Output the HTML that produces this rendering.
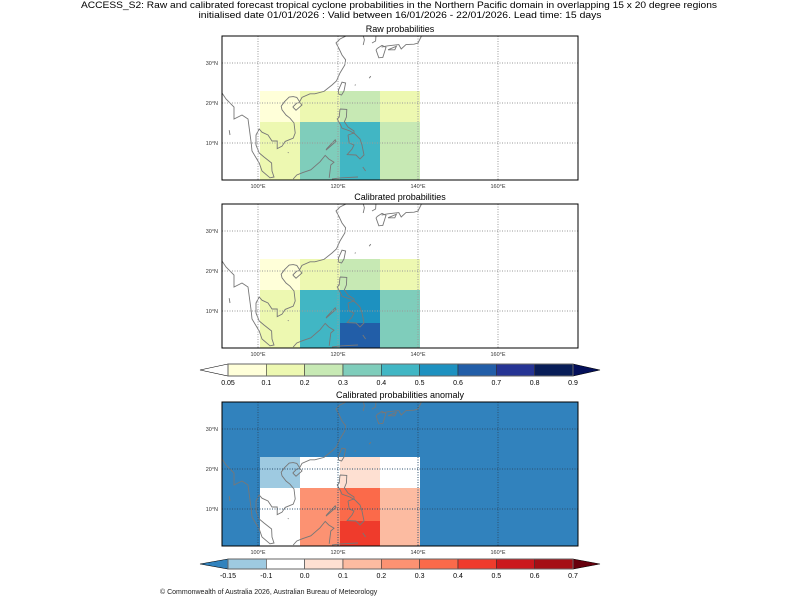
<!DOCTYPE html>
<html><head><meta charset="utf-8"><style>
html,body{margin:0;padding:0;background:#fff;}
svg{display:block;font-family:"Liberation Sans","DejaVu Sans",sans-serif;}
</style></head><body>
<svg id="fig" width="800" height="600" viewBox="0 0 800 600" xmlns="http://www.w3.org/2000/svg">
<text x="399" y="8" font-size="9" text-anchor="middle" textLength="636" lengthAdjust="spacingAndGlyphs">ACCESS_S2: Raw and calibrated forecast tropical cyclone probabilities in the Northern Pacific domain in overlapping 15 x 20 degree regions</text>
<text x="400" y="18" font-size="9" text-anchor="middle" textLength="403" lengthAdjust="spacingAndGlyphs">initialised date 01/01/2026 :  Valid between 16/01/2026 - 22/01/2026. Lead time: 15 days</text>
<text x="160" y="594" font-size="7" fill="#222">© Commonwealth of Australia 2026, Australian Bureau of Meteorology</text>
</svg>
<script>
// ---- data ----
const lonEdges = [100.5, 110.5, 120.5, 130.5, 140.5];
const latEdges = [23, 15.25, 7, 0];
const rawValues = [[0.07,0.15,0.25,0.15],[0.15,0.35,0.45,0.25],[0.15,0.35,0.45,0.25]];
const calValues = [[0.07,0.15,0.25,0.15],[0.15,0.45,0.55,0.35],[0.15,0.45,0.65,0.35]];
const anomValues = [[-0.12,-0.05,0.05,-0.05],[-0.05,0.25,0.35,0.15],[-0.05,0.25,0.45,0.15]];
const probLevels = [0.05,0.1,0.2,0.3,0.4,0.5,0.6,0.7,0.8,0.9];
const probColors = ["#ffffd9","#edf8b1","#c7e9b4","#7fcdbb","#41b6c4","#1d91c0","#225ea8","#253494","#081d58"];
const probUnder = "#ffffff", probOver = "#04105a";
const anomLevels = [-0.15,-0.1,0.0,0.1,0.2,0.3,0.4,0.5,0.6,0.7];
const anomColors = ["#9ecae1","#ffffff","#fee0d2","#fcbba1","#fc9272","#fb6a4a","#ef3b2c","#cb181d","#a50f15"];
const anomUnder = "#3182bd", anomOver = "#67000d";
const lonTicks = [100,120,140,160];
const latTicks = [10,20,30];
const coasts = [
 [[91,22.5],[92,21],[94,19],[94,16],[96,17],[97.5,16],[98.3,10],[98.5,8],[100.3,5],[101,3],[103,1.3],[104,1.5],[103.5,3],[103.4,5],[101.5,6.5],[100.3,7.5],[99.5,9.5],[99.5,12],[100.3,13.5],[101,12.7],[102.5,12],[103.5,10.5],[104.8,10.5],[104.8,8.6],[106,9.2],[106.8,10.4],[108.8,11.2],[109.3,12.5],[109,15],[108,16.2],[107,17],[106,18.3],[105.8,19.2],[106.6,20.3],[107.8,21.5],[108.8,21.6],[109.7,21.4],[110.4,20.3],[111,21.4],[113,22.3],[114.2,22.3],[116.5,22.9],[118.5,24.5],[119.6,25.5],[120.5,27.5],[121.7,29.5],[121.9,30.8],[121,32],[120.3,33.5],[119.5,35],[120.5,36],[122.5,37],[122.5,38]],
 [[108.7,19],[109.5,18.2],[111,19.5],[110.5,20.1],[109.7,20],[108.7,19]],
 [[120.2,22.2],[120.1,23.2],[121,25.2],[121.9,25],[121.5,23],[120.9,22],[120.2,22.2]],
 [[120.5,18.5],[122.2,18.4],[122.1,16.5],[121.6,15.3],[122.5,14],[124,13],[124,12.4],[123,13],[121,13.7],[120.6,14.6],[119.8,16],[120.3,16.5],[120.5,18.5]],
 [[122.5,12],[124,12.5],[125.5,11],[126,9.5],[126.5,7],[125.5,6],[124.5,7],[122.3,7.1],[123.5,8.5],[124,9.5],[122.8,10],[122.5,12]],
 [[117,8.2],[119.5,10.4],[119.3,10.8],[117.2,8.6],[117,8.2]],
 [[108.8,1],[109.7,2],[111.2,2.6],[113.2,3.3],[115.5,5.3],[116.8,6.9],[117.7,6],[119,5.2],[118.2,4.5],[117.8,1.3]],
 [[118.5,1],[120,1.2],[121,1.3],[125,1.5]],
 [[126.2,4],[126.9,3]],
 [[126.3,34.5],[126.6,35.8],[126.3,36.8],[126.8,37]],
 [[128.5,35],[129.4,35.5],[129.5,37]],
 [[129.5,33.3],[130.2,31.3],[131.2,31.4],[132,33.9],[131,34.4],[129.9,33.7],[129.5,33.3]],
 [[130.9,34],[132.5,34.3],[135.2,34.6],[135.8,33.5],[137,34.6],[139,34.7],[140,35],[140.5,36],[141,37]],
 [[132.5,33.3],[134.2,33.3],[134.6,34.2],[132.5,33.3]],
 [[124.2,24.4],[124.4,24.6]],[[127.8,26.2],[128.2,26.7]],
 [[93,12],[92.8,13.2]],[[107.5,7.5],[107.6,7.7]]
];
// ---- drawing ----
const NS = "http://www.w3.org/2000/svg";
const svg = document.getElementById('fig');
function mk(tag, attrs, parent){const e=document.createElementNS(NS,tag);for(const k in attrs)e.setAttribute(k,attrs[k]);(parent||svg).appendChild(e);return e;}
function colorFor(v, levels, colors, under, over){
  if(v<levels[0])return under;
  for(let i=0;i<colors.length;i++){if(v<levels[i+1])return colors[i];}
  return over;
}
const X0=222,W=356,H=144;
const lonMin=91, pxPerDeg=4;
function panel(top, title, values, levels, colors, under, over, bg, gridColor, nm){
  const lonX = lon => X0 + (lon-lonMin)*pxPerDeg;
  const latY = lat => top + 27 + (30-lat)*pxPerDeg;
  const g = mk('g',{});
  
  
  const t = mk('text',{x:400,y:top-4,'font-size':9,'text-anchor':'middle'});
  
  
  t.textContent = title;
  const cid='clip-'+nm;
  const cp=mk('clipPath',{id:cid}); mk('rect',{x:X0,y:top,width:W,height:H},cp);
  const bgr=mk('rect',{x:X0,y:top,width:W,height:H,fill:bg},g);
  
  
  const cells = mk('g',{'clip-path':'url(#'+cid+')'},g);
  for(let r=0;r<values.length;r++){for(let c=0;c<values[r].length;c++){
    const x1=lonX(lonEdges[c]), x2=lonX(lonEdges[c+1]);
    const y1=latY(latEdges[r]), y2=latY(latEdges[r+1]);
    const rc=mk('rect',{x:x1,y:y1,width:x2-x1,height:y2-y1,fill:colorFor(values[r][c],levels,colors,under,over)},cells);
    
    
  }}
  const coastG = mk('g',{'clip-path':'url(#'+cid+')',fill:'none',stroke:'#777','stroke-width':0.9},g);
  for(const line of coasts){
    const p=mk('polyline',{points:line.map(q=>lonX(q[0]).toFixed(1)+','+latY(q[1]).toFixed(1)).join(' ')},coastG);
    
    
  }
  for(const lon of lonTicks){
    const x=lonX(lon);
    const l=mk('line',{x1:x,x2:x,y1:top,y2:top+H,stroke:gridColor,'stroke-width':1,'stroke-dasharray':'1,1.5'},g);
    
    
    const tl=mk('text',{x:x,y:top+H+8,'font-size':5.5,'text-anchor':'middle',fill:'#333'},g);
    
    
    tl.textContent=lon+'°E';
  }
  for(const lat of latTicks){
    const y=latY(lat);
    const l=mk('line',{x1:X0,x2:X0+W,y1:y,y2:y,stroke:gridColor,'stroke-width':1,'stroke-dasharray':'1,1.5'},g);
    
    
    const tl=mk('text',{x:X0-4,y:y+2,'font-size':5.5,'text-anchor':'end',fill:'#333'},g);
    
    
    tl.textContent=lat+'°N';
  }
  mk('rect',{x:X0,y:top,width:W,height:H,fill:'none',stroke:'#000','stroke-width':1},g);
}
function colorbar(y, h, levels, colors, under, over, nm){
  const x0=228, x1=573, n=colors.length, bw=(x1-x0)/n;
  const g=mk('g',{});
  
  
  mk('polygon',{points:`${x0},${y} 200,${y+h/2} ${x0},${y+h}`,fill:under,stroke:'#000','stroke-width':0.6},g);
  mk('polygon',{points:`${x1},${y} 600,${y+h/2} ${x1},${y+h}`,fill:over,stroke:'#000','stroke-width':0.6},g);
  for(let i=0;i<n;i++){
    const r=mk('rect',{x:x0+i*bw,y:y,width:bw,height:h,fill:colors[i],stroke:'#333','stroke-width':0.6},g);
    
    
  }
  mk('rect',{x:x0,y:y,width:x1-x0,height:h,fill:'none',stroke:'#666','stroke-width':1},g);
  levels.forEach((lv,i)=>{
    const t=mk('text',{x:x0+i*bw,y:y+h+9,'font-size':7,'text-anchor':'middle'},g);
    
    
    t.textContent=(lv===0?'0.0':String(lv));
  });
}
panel(36,'Raw probabilities',rawValues,probLevels,probColors,probUnder,probOver,'#ffffff','#999','raw-probabilities');
panel(204,'Calibrated probabilities',calValues,probLevels,probColors,probUnder,probOver,'#ffffff','#999','calibrated-probabilities');
panel(402,'Calibrated probabilities anomaly',anomValues,anomLevels,anomColors,anomUnder,anomOver,'#3182bd','#2a4f6e','anomaly');
colorbar(364,12,probLevels,probColors,probUnder,probOver,'probability-colorbar');
colorbar(559,10,anomLevels,anomColors,anomUnder,anomOver,'anomaly-colorbar');
</script>
</body></html>
